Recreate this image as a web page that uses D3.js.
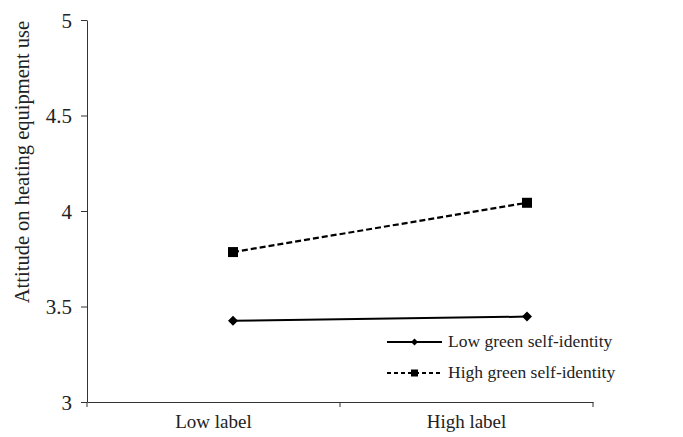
<!DOCTYPE html>
<html><head><meta charset="utf-8">
<script src="https://cdn.jsdelivr.net/npm/d3@7"></script>
<style>body{margin:0;background:#fff}svg{display:block}svg text{font-family:"Liberation Serif","Times New Roman",serif !important;fill:#222}</style>
</head><body>
<script>
const categories = ["Low label", "High label"];
const seriesNames = ["Low green self-identity", "High green self-identity"];
const lowGreen = [3.425, 3.447];
const highGreen = [3.785, 4.043];
const yTicks = [3, 3.5, 4, 4.5, 5];
const yTitle = "Attitude on heating equipment use";

const W = 683, H = 437;
const svg = d3.select("body").append("svg").attr("width", W).attr("height", H);
const y = d3.scaleLinear().domain([3, 5]).range([402, 20]);
const xBand = d3.scaleBand().domain(categories).range([87, 593]);
const xPt = d3.scalePoint().domain(categories).range([233, 527]);

// y axis
const ya = svg.append("g").attr("transform", "translate(87,0)")
  .call(d3.axisLeft(y).tickValues(yTicks).tickFormat(d => d3.format("")(d)).tickSizeInner(6).tickSizeOuter(0).tickPadding(9));
ya.attr("font-family", null);
ya.selectAll("path,line").attr("stroke", "#333");
ya.selectAll("text").attr("font-size", "21px").attr("fill", "#222").attr("dy", "0.35em");

// x axis
const xa = svg.append("g").attr("transform", "translate(0,402)")
  .call(d3.axisBottom(xBand).tickSize(0).tickPadding(13));
xa.attr("font-family", null);
xa.select("path").attr("stroke", "#333");
xa.selectAll("text").attr("font-size", "19px").attr("fill", "#222");
// boundary ticks between bands
const bounds = [87].concat(categories.map(c => xBand(c) + xBand.bandwidth()));
svg.append("g").selectAll("line").data(bounds).join("line")
  .attr("x1", d => d).attr("x2", d => d).attr("y1", 402).attr("y2", 407).attr("stroke", "#333");

// y title
svg.append("text").attr("transform", "translate(29,162) rotate(-90)")
  .attr("text-anchor", "middle").attr("font-size", "20.5px").text(yTitle);

const line = d3.line().x((d, i) => xPt(categories[i])).y(d => y(d));

// low series
svg.append("path").attr("d", line(lowGreen)).attr("fill", "none").attr("stroke", "#000").attr("stroke-width", 2);
const diamond = s => `M0,${-s}L${s},0L0,${s}L${-s},0Z`;
svg.append("g").selectAll("path").data(lowGreen).join("path")
  .attr("transform", (d, i) => `translate(${xPt(categories[i])},${y(d)})`)
  .attr("d", diamond(5)).attr("fill", "#000");

// high series
svg.append("path").attr("d", line(highGreen)).attr("fill", "none").attr("stroke", "#000").attr("stroke-width", 2.2).attr("stroke-dasharray", "6,3");
svg.append("g").selectAll("rect").data(highGreen).join("rect")
  .attr("x", (d, i) => xPt(categories[i]) - 5).attr("y", d => y(d) - 5)
  .attr("width", 10).attr("height", 10).attr("fill", "#000");

// legend
const lg = svg.append("g");
const ly = [342, 373];
lg.append("line").attr("x1", 387).attr("x2", 442).attr("y1", ly[0]).attr("y2", ly[0]).attr("stroke", "#000").attr("stroke-width", 2);
lg.append("path").attr("transform", `translate(414.5,${ly[0]})`).attr("d", diamond(3.5)).attr("fill", "#000");
lg.append("line").attr("x1", 387).attr("x2", 442).attr("y1", ly[1]).attr("y2", ly[1]).attr("stroke", "#000").attr("stroke-width", 2).attr("stroke-dasharray", "4,3");
lg.append("rect").attr("x", 411).attr("y", ly[1] - 3.5).attr("width", 7).attr("height", 7).attr("fill", "#000");
lg.selectAll("text").data(seriesNames).join("text")
  .attr("x", 448).attr("y", (d, i) => ly[i] + 5).attr("font-size", "17.5px").text(d => d);
</script>
</body></html>
